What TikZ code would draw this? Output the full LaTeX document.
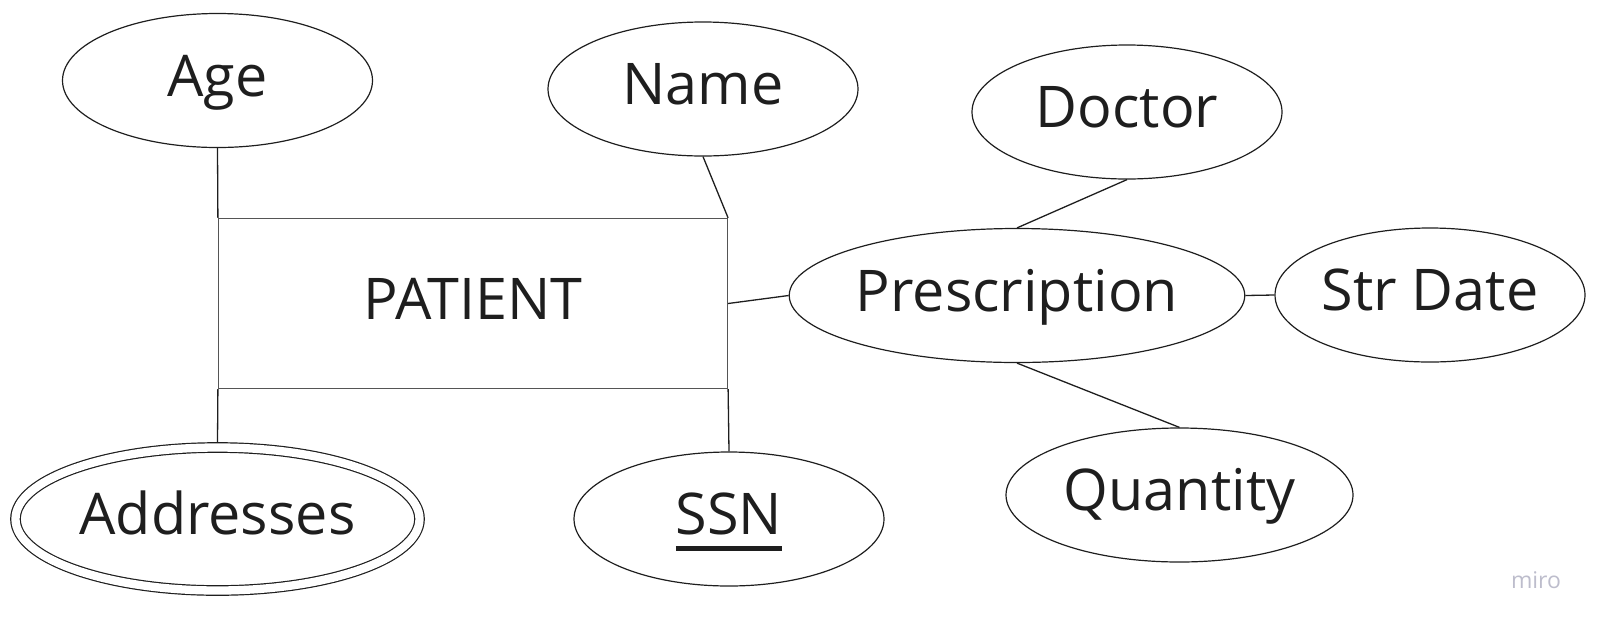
\documentclass[tikz,border=0pt]{standalone}
\usepackage{fontspec}
\setmainfont{Open Sans}
\usepackage{xcolor}
\usetikzlibrary{shapes.geometric}

\definecolor{inkgray}{HTML}{1E1E1E}
\definecolor{boxgray}{HTML}{555555}
\definecolor{mirogray}{HTML}{BDBDCC}

% thick bar under a key attribute
\newcommand{\keyattr}[1]{\setbox0\hbox{#1}\rlap{\smash{\rule[-16pt]{\wd0}{5pt}}}\box0}

\begin{document}
\begin{tikzpicture}[
            x = 1pt, y = -1pt, % one unit = one pixel of the sketch
            font = \fontsize{57.5}{62}\selectfont,
            attrib/.style = {shape=ellipse, draw=inkgray, line width=1.2pt, inner sep=0pt,
                             minimum width=310pt, minimum height=134pt,
                             text height=43pt, text depth=12pt, text=inkgray},
            entity/.style = {shape=rectangle, draw=boxgray, line width=1.2pt, inner sep=0pt,
                             minimum width=509pt, minimum height=170pt,
                             text height=43pt, text depth=12pt, text=inkgray},
            link/.style = {draw=inkgray, line width=1.3pt}
        ]
\useasboundingbox (0,0) rectangle (1598,625);

\node[entity] (PATIENT) at (473,303.5) {PATIENT};

\node[attrib] (Age) at (217.5,80.5) {Age};
\node[attrib] (Name) at (703,89) {Name};
\node[attrib, double, double distance=8.3pt, outer sep=5pt,
      minimum width=404pt, minimum height=143pt] (Addresses) at (217.5,519) {Addresses};
\node[attrib] (SSN) at (729,519) {\keyattr{SSN}};

\node[attrib, minimum width=455pt] (Prescription) at (1017,295.5) {Prescription};
\node[attrib] (Doctor) at (1127,112) {Doctor};
\node[attrib] (StrDate) at (1430,295) {Str Date};
\node[attrib, minimum width=347pt] (Quantity) at (1179.5,495) {Quantity};

\node[text=mirogray, font=\fontsize{23}{25}\selectfont] (miro) at (1536,580) {miro};

 \path [link] (Age.south) edge (PATIENT.north west);
 \path [link] (Name.south) edge (PATIENT.north east);
 \path [link] (PATIENT.south west) edge (Addresses.north);
 \path [link] (PATIENT.south east) edge (SSN.north);
 \path [link] (PATIENT.east) edge (Prescription.west);
 \path [link] (Doctor.south) edge (Prescription.north);
 \path [link] (Prescription.east) edge (StrDate.west);
 \path [link] (Prescription.south) edge (Quantity.north);

\end{tikzpicture}
\end{document}
